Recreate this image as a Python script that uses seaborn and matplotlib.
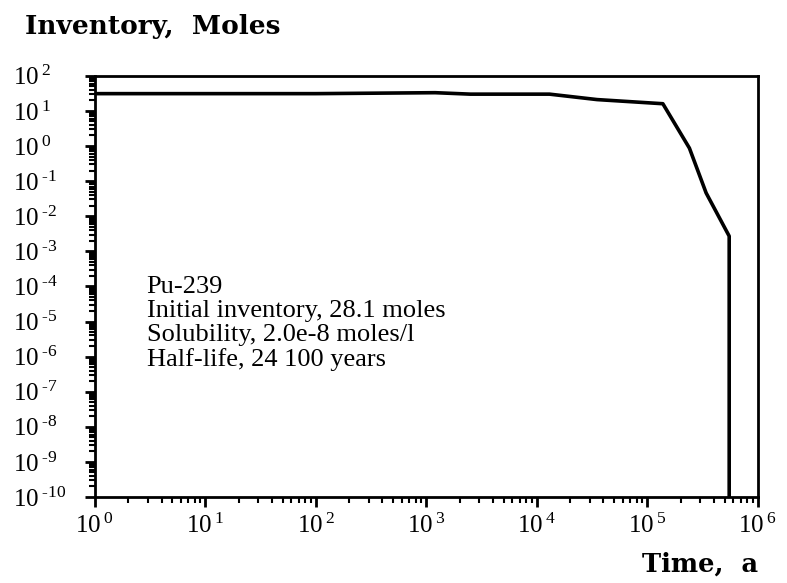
import numpy as np
import pandas as pd
import seaborn as sns
import matplotlib
matplotlib.use("Agg")
import matplotlib.pyplot as plt
from matplotlib.ticker import LogLocator, FixedLocator, FuncFormatter, NullFormatter

# Pu-239 inventory vs time
time_a = [1.0, 1.0e2, 1.2e3, 2.5e3, 1.3e4, 3.5e4, 1.38e5, 2.4e5, 3.4e5, 5.5e5, 5.5e5]
inventory = [31.0, 31.0, 33.0, 30.0, 30.0, 21.0, 16.0, 0.87, 0.046, 2.7e-3, 1e-10]

note_lines = ["Pu-239",
              "Initial inventory, 28.1 moles",
              "Solubility, 2.0e-8 moles/l",
              "Half-life, 24 100 years"]

sns.set_style("ticks")
plt.rcParams['font.family'] = ['Liberation Serif', 'DejaVu Serif']
plt.rcParams['mathtext.fontset'] = 'custom'
plt.rcParams['mathtext.rm'] = 'Liberation Serif'
plt.rcParams['mathtext.it'] = 'Liberation Serif'
plt.rcParams['mathtext.default'] = 'rm'
plt.rcParams['text.color'] = 'black'
plt.rcParams['xtick.color'] = 'black'
plt.rcParams['ytick.color'] = 'black'

frame = pd.DataFrame({'time': time_a, 'inv': inventory})

fig = plt.figure(figsize=(7.87, 5.83), dpi=100)
ax = fig.add_axes([0.1207, 0.1475, 0.8423, 0.7225])

sns.lineplot(data=frame, x='time', y='inv', estimator=None, sort=False,
             color='black', linewidth=2.6, ax=ax)

ax.set_xscale('log')
ax.set_yscale('log')
ax.set_xlim(1, 1e6)
ax.set_ylim(1e-10, 1e2)

def fmt(v, pos):
    e = int(round(np.log10(v)))
    s = str(e).replace('-', '\u2010')
    return r"$10^{\;%s}$" % s

ax.xaxis.set_major_locator(FixedLocator([10.0**k for k in range(0, 7)]))
ax.yaxis.set_major_locator(FixedLocator([10.0**k for k in range(-10, 3)]))
ax.xaxis.set_major_formatter(FuncFormatter(fmt))
ax.yaxis.set_major_formatter(FuncFormatter(fmt))
ax.xaxis.set_minor_locator(LogLocator(base=10, subs=np.arange(2, 10), numticks=20))
ax.yaxis.set_minor_locator(LogLocator(base=10, subs=np.arange(2, 10), numticks=30))
ax.xaxis.set_minor_formatter(NullFormatter())
ax.yaxis.set_minor_formatter(NullFormatter())

ax.tick_params(axis='both', which='major', direction='out', length=7, width=2,
               labelsize=18, colors='black', labelcolor='black')
ax.tick_params(axis='both', which='minor', direction='out', length=4, width=1.5)
ax.tick_params(axis='x', pad=5)
ax.tick_params(axis='y', pad=52)
for lab in ax.get_yticklabels():
    lab.set_horizontalalignment('left')
for s in ax.spines.values():
    s.set_linewidth(2)
    s.set_color('black')

ax.set_xlabel('')
ax.set_ylabel('')

ax.text(0.078, 0.525, "\n".join(note_lines), transform=ax.transAxes,
        fontsize=19, va='top', ha='left', linespacing=1.12, color='black')

fig.text(0.032, 0.955, "Inventory,  Moles", fontsize=19, fontweight='bold',
         family='DejaVu Serif', va='center', ha='left', color='black')
fig.text(0.963, 0.033, "Time,  a", fontsize=18.5, fontweight='bold',
         family='DejaVu Serif', va='center', ha='right', color='black')

fig.savefig("out.png", dpi=100)
